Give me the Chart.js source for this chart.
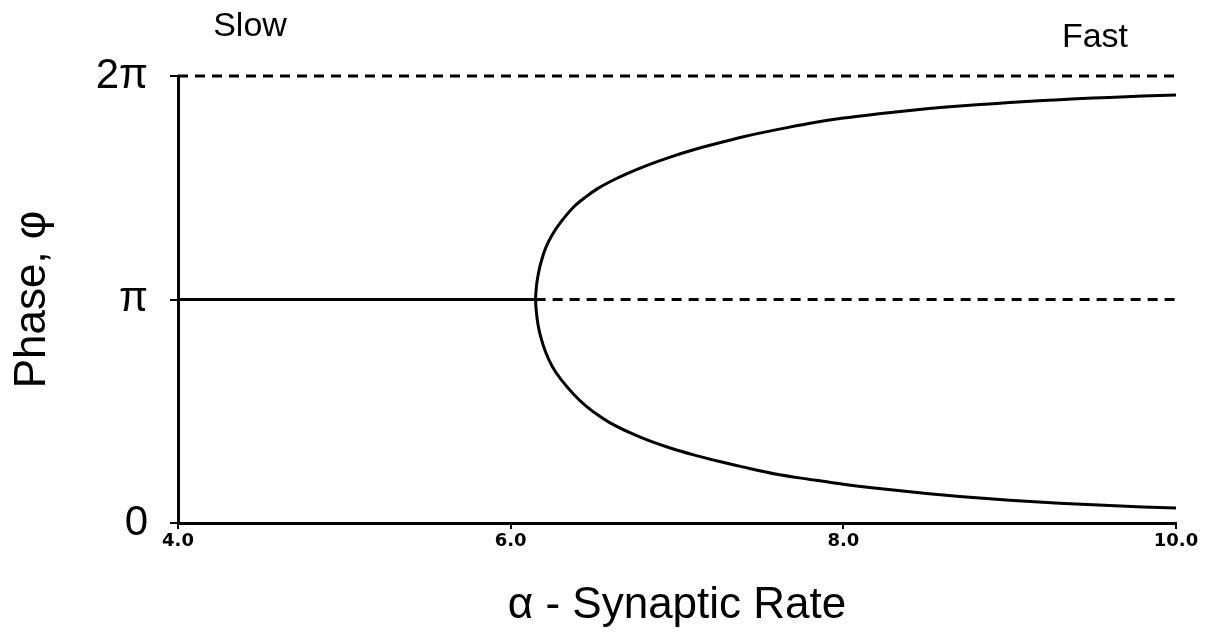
<!DOCTYPE html>
<html>
<head>
<meta charset="utf-8">
<script src="https://cdn.jsdelivr.net/npm/chart.js@4"></script>
<style>
  html, body { margin: 0; padding: 0; background: #fff; }
  #wrap { width: 1211px; height: 640px; }
</style>
</head>
<body>
<div id="wrap"><canvas id="phaseChart"></canvas></div>
<script>
// phase values are in units of pi
const yTickLabels = ['0', 'π', '2π'];
const xTicks = [4, 6, 8, 10];

// bifurcation point
const bifAlpha = 6.15;

// upper branch (alpha, phase/pi)
const upperAlpha = [6.15, 6.155, 6.165, 6.18, 6.21, 6.25, 6.30, 6.38, 6.45, 6.52, 6.60, 6.70, 6.82, 6.95, 7.10, 7.25, 7.40, 7.60, 7.80, 8.00, 8.20, 8.40, 8.60, 8.80, 9.00, 9.20, 9.40, 9.60, 9.80, 10.0];
const upperPhase = [1.00, 1.06, 1.11, 1.16, 1.23, 1.29, 1.345, 1.415, 1.458, 1.495, 1.528, 1.563, 1.60, 1.635, 1.67, 1.70, 1.728, 1.76, 1.789, 1.812, 1.83, 1.846, 1.86, 1.871, 1.881, 1.89, 1.898, 1.904, 1.91, 1.915];

// lower branch
const lowerAlpha = [6.15, 6.155, 6.165, 6.18, 6.21, 6.25, 6.30, 6.38, 6.45, 6.52, 6.60, 6.70, 6.82, 6.95, 7.10, 7.25, 7.40, 7.60, 7.80, 8.00, 8.20, 8.40, 8.60, 8.80, 9.00, 9.20, 9.40, 9.60, 9.80, 10.0];
const lowerPhase = [1.00, 0.94, 0.885, 0.835, 0.765, 0.70, 0.645, 0.575, 0.525, 0.485, 0.447, 0.41, 0.372, 0.338, 0.305, 0.276, 0.25, 0.218, 0.195, 0.173, 0.155, 0.14, 0.125, 0.113, 0.102, 0.093, 0.085, 0.078, 0.072, 0.067];

// antiphase line (solid = stable, dashed = unstable) and 2pi line
const antiStable = [{ x: 4, y: 1 }, { x: bifAlpha, y: 1 }];
const antiUnstable = [{ x: bifAlpha, y: 1 }, { x: 10, y: 1 }];
const twoPiLine = [{ x: 4, y: 2 }, { x: 10, y: 2 }];

// fork drawn as one path: upper branch from right to vertex, then lower branch out
const forkPath = upperAlpha.map((a, i) => ({ x: a, y: upperPhase[i] })).reverse()
    .concat(lowerAlpha.slice(1).map((a, i) => ({ x: a, y: lowerPhase[i + 1] })));

const lineBase = { showLine: true, pointRadius: 0, borderColor: '#000', fill: false, clip: false };

// Slow / Fast labels above the plot
const cornerText = {
    id: 'cornerText',
    afterDraw(chart) {
        const ctx = chart.ctx;
        ctx.save();
        ctx.fillStyle = '#000';
        ctx.font = '34px "Liberation Sans", Arial, sans-serif';
        ctx.textAlign = 'center';
        ctx.textBaseline = 'middle';
        ctx.fillText('Slow', 250, 27);
        ctx.fillText('Fast', 1095, 38);
        ctx.restore();
    }
};

new Chart(document.getElementById('phaseChart'), {
    type: 'scatter',
    data: {
        datasets: [
            { ...lineBase, data: forkPath, borderWidth: 3, tension: 0.3 },
            { ...lineBase, data: antiStable, borderWidth: 3 },
            { ...lineBase, data: antiUnstable, borderWidth: 3, borderDash: [10, 7] },
            { ...lineBase, data: twoPiLine, borderWidth: 3, borderDash: [10, 7] }
        ]
    },
    options: {
        responsive: true,
        maintainAspectRatio: false,
        animation: false,
        layout: { padding: { top: 76, right: 35, left: 0, bottom: 0 } },
        plugins: { legend: { display: false }, tooltip: { enabled: false } },
        scales: {
            x: {
                type: 'linear',
                min: 4, max: 10,
                afterBuildTicks: s => { s.ticks = xTicks.map(v => ({ value: v })); },
                afterFit: s => { s.height = 117; },
                border: { display: true, color: '#000', width: 3 },
                grid: { display: true, drawOnChartArea: false, drawTicks: true, tickLength: 6, color: '#000', lineWidth: 2 },
                ticks: {
                    color: '#000', padding: 2, maxRotation: 0,
                    font: { family: '"DejaVu Sans"', size: 18, weight: 'bold' },
                    callback: v => v.toFixed(1)
                },
                title: {
                    display: true, text: 'α - Synaptic Rate', color: '#000',
                    font: { family: '"Liberation Sans"', size: 44 },
                    padding: { top: 0, bottom: 8 }
                }
            },
            y: {
                type: 'linear',
                min: 0, max: 2,
                afterBuildTicks: s => { s.ticks = yTickLabels.map((_, i) => ({ value: i })); },
                afterFit: s => { s.width = 178; },
                border: { display: true, color: '#000', width: 3 },
                grid: { display: true, drawOnChartArea: false, drawTicks: true, tickLength: 8, color: '#000', lineWidth: 2 },
                ticks: {
                    color: '#000', padding: 22,
                    font: { family: '"Liberation Sans"', size: 42 },
                    callback: v => yTickLabels[v]
                },
                title: {
                    display: true, text: 'Phase, φ', color: '#000',
                    font: { family: '"Liberation Sans"', size: 44 },
                    padding: { top: 6, bottom: 0 }
                }
            }
        }
    },
    plugins: [cornerText]
});
</script>
</body>
</html>
